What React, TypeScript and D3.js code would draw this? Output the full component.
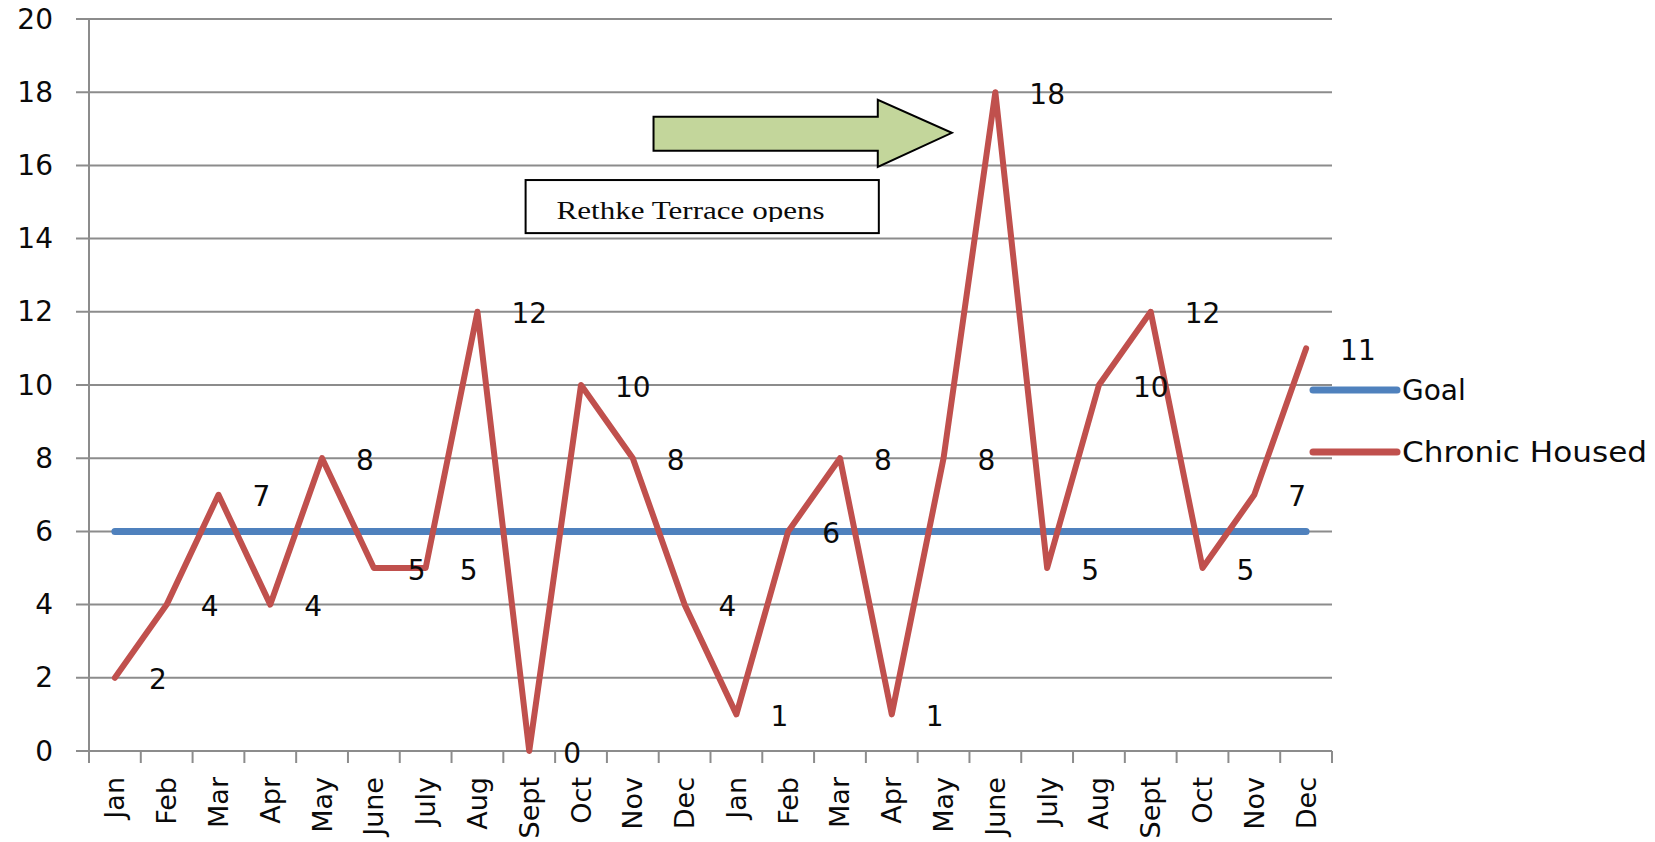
import React from "react";
import * as d3 from "d3";

const months = ["Jan", "Feb", "Mar", "Apr", "May", "June", "July", "Aug", "Sept", "Oct", "Nov", "Dec"];
const categories = [...months, ...months];
const chronicHoused = [2, 4, 7, 4, 8, 5, 5, 12, 0, 10, 8, 4, 1, 6, 8, 1, 8, 18, 5, 10, 12, 5, 7, 11];
const goal = [6, 6, 6, 6, 6, 6, 6, 6, 6, 6, 6, 6, 6, 6, 6, 6, 6, 6, 6, 6, 6, 6, 6, 6];
const yTicks = [0, 2, 4, 6, 8, 10, 12, 14, 16, 18, 20];
const seriesNames = ["Goal", "Chronic Housed"];
const noteText = "Rethke Terrace opens";

const W = 1655;
const H = 842;
const FONT = "'DejaVu Sans', 'Noto Sans', sans-serif";
const RED = "#C0504D";
const BLUE = "#4F81BD";
const GRID = "#8c8c8c";
const INK = "#0a0a0a";

const App = () => {
  const x = d3
    .scaleBand<number>()
    .domain(categories.map((_, i) => i))
    .range([89, 1332]);
  const y = d3.scaleLinear().domain([0, 20]).range([751, 19]);
  const cx = (i: number) => (x(i) as number) + x.bandwidth() / 2;
  // position in "category units" for annotations
  const xu = (u: number) => 89 + x.step() * u;

  const line = d3
    .line<number>()
    .x((_, i) => cx(i))
    .y((d) => y(d));

  // arrow shape in chart units
  const arrow: [number, number][] = [
    [10.9, 17.33],
    [15.23, 17.33],
    [15.23, 17.79],
    [16.66, 16.89],
    [15.23, 15.96],
    [15.23, 16.4],
    [10.9, 16.4],
  ];
  const arrowPath = d3.line<[number, number]>().x((d) => xu(d[0])).y((d) => y(d[1]))(arrow) + "Z";

  const boxL = xu(8.43);
  const boxR = xu(15.25);
  const boxT = y(15.6);
  const boxB = y(14.15);

  return (
    <svg
      width={W}
      height={H}
      style={{ position: "absolute", left: 0, top: 0, background: "#fff" }}
      fontFamily={FONT}
    >
      <defs>
        <clipPath id="noteClip">
          <rect x={boxL} y={boxT} width={boxR - boxL} height={boxB - boxT - 11} />
        </clipPath>
      </defs>

      {/* grid */}
      {yTicks.map((t) => (
        <g key={t}>
          <line x1={76} x2={1332} y1={y(t)} y2={y(t)} stroke={GRID} strokeWidth={2} />
          <text x={53} y={y(t)} textAnchor="end" dominantBaseline="central" fontSize={28} fill={INK}>
            {t}
          </text>
        </g>
      ))}

      {/* axes */}
      <line x1={89} x2={89} y1={y(20)} y2={y(0)} stroke={GRID} strokeWidth={2} />
      {d3.range(categories.length + 1).map((i) => (
        <line key={i} x1={xu(i)} x2={xu(i)} y1={y(0)} y2={y(0) + 12} stroke={GRID} strokeWidth={2} />
      ))}
      {categories.map((c, i) => (
        <text
          key={i}
          transform={`translate(${cx(i)},777) rotate(-90)`}
          textAnchor="end"
          dominantBaseline="central"
          fontSize={27}
          fill={INK}
        >
          {c}
        </text>
      ))}

      {/* series */}
      <path d={line(goal) || ""} fill="none" stroke={BLUE} strokeWidth={7} strokeLinecap="round" />
      <path
        d={line(chronicHoused) || ""}
        fill="none"
        stroke={RED}
        strokeWidth={6}
        strokeLinejoin="round"
        strokeLinecap="round"
      />

      {/* data labels */}
      {chronicHoused.map((v, i) => (
        <text
          key={i}
          x={cx(i) + 34}
          y={y(v) + 2}
          dominantBaseline="central"
          fontSize={28}
          fill={INK}
        >
          {v}
        </text>
      ))}

      {/* annotation */}
      <path d={arrowPath} fill="#C3D69B" stroke="#000" strokeWidth={2} />
      <rect x={boxL} y={boxT} width={boxR - boxL} height={boxB - boxT} fill="#fff" stroke="#000" strokeWidth={2} />
      <g clipPath="url(#noteClip)">
        <text
          x={boxL + 31}
          y={boxB - 14}
          fontFamily="'Liberation Serif', 'Times New Roman', serif"
          fontSize={26}
          textLength={268}
          lengthAdjust="spacingAndGlyphs"
          fill={INK}
        >
          {noteText}
        </text>
      </g>

      {/* legend */}
      {seriesNames.map((s, i) => (
        <g key={s} transform={`translate(1313,${390 + i * 62})`}>
          <line x1={0} x2={84} y1={0} y2={0} stroke={i === 0 ? BLUE : RED} strokeWidth={7} strokeLinecap="round" />
          <text
            x={89}
            y={0}
            dominantBaseline="central"
            fontSize={28}
            fill={INK}
            textLength={i === 1 ? 245 : undefined}
            lengthAdjust="spacingAndGlyphs"
          >
            {s}
          </text>
        </g>
      ))}
    </svg>
  );
};

export default App;
